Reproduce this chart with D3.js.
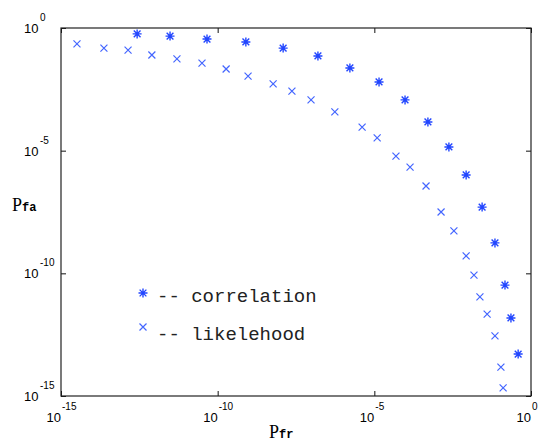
<!DOCTYPE html>
<html>
<head>
<meta charset="utf-8">
<script src="https://cdn.jsdelivr.net/npm/d3@7"></script>
<style>
  body { margin: 0; background: #fff; }
  svg { display: block; }
</style>
</head>
<body>
<div class="chart"></div>
<script>
// exponents (log10)
var corrPfr = [-12.57, -11.52, -10.34, -9.10, -7.91, -6.80, -5.78, -4.85, -4.02, -3.29, -2.62, -2.07, -1.56, -1.15, -0.83, -0.64, -0.41];
var corrPfa = [-0.24, -0.33, -0.45, -0.57, -0.82, -1.14, -1.63, -2.20, -2.93, -3.83, -4.85, -5.99, -7.30, -8.76, -10.48, -11.82, -13.29];
var likePfr = [-14.49, -13.63, -12.86, -12.10, -11.30, -10.50, -9.73, -9.03, -8.23, -7.63, -7.02, -6.26, -5.39, -4.91, -4.31, -3.86, -3.35, -2.87, -2.46, -2.07, -1.82, -1.63, -1.40, -1.15, -0.96, -0.89];
var likePfa = [-0.65, -0.82, -0.90, -1.10, -1.26, -1.43, -1.67, -1.96, -2.28, -2.57, -2.93, -3.42, -4.04, -4.48, -5.22, -5.67, -6.44, -7.50, -8.27, -9.29, -10.07, -10.96, -11.66, -12.55, -13.82, -14.67];
var tickExps = [-15, -10, -5, 0];
var legendLabels = ['-- correlation', '-- likelehood'];

var margins = {top: 28, left: 61, right: 10, bottom: 45};
var width = 541 - margins.left - margins.right;
var height = 441 - margins.top - margins.bottom;

var svg = d3.select('.chart')
    .append('svg')
    .attr('width', 541)
    .attr('height', 441)
    .append('g')
    .attr('transform', 'translate(' + margins.left + ',' + margins.top + ')');

var xScale = d3.scaleLog().domain([1e-15, 1]).range([0, width]);
var yScale = d3.scaleLog().domain([1e-15, 1]).range([height, 0]);
var tickVals = tickExps.map(function (e) { return Math.pow(10, e); });

function tickAxis(axis, transform) {
    var g = svg.append('g')
        .attr('transform', transform)
        .call(axis.tickValues(tickVals).tickSize(-5).tickFormat(''));
    g.select('.domain').remove();
    g.selectAll('line').attr('stroke', '#111');
}
tickAxis(d3.axisBottom(xScale), 'translate(0,' + height + ')');
tickAxis(d3.axisTop(xScale), 'translate(0,0)');
tickAxis(d3.axisLeft(yScale), 'translate(0,0)');
tickAxis(d3.axisRight(yScale), 'translate(' + width + ',0)');

svg.append('rect')
    .attr('width', width)
    .attr('height', height)
    .attr('fill', 'none')
    .attr('stroke', '#222')
    .attr('stroke-width', 1.2);

// tick labels
tickExps.forEach(function (e) {
    var x = xScale(Math.pow(10, e));
    svg.append('text')
        .attr('x', x).attr('y', height + 26)
        .attr('text-anchor', 'end')
        .attr('font-family', 'Liberation Sans, Arial')
        .attr('font-size', 13)
        .text('10');
    svg.append('text')
        .attr('x', x + 1).attr('y', height + 14)
        .attr('font-family', 'Liberation Sans, Arial')
        .attr('font-size', 10)
        .text(e);

    var y = yScale(Math.pow(10, e));
    svg.append('text')
        .attr('x', -37).attr('y', y + 5)
        .attr('font-family', 'Liberation Sans, Arial')
        .attr('font-size', 13)
        .text('10');
    svg.append('text')
        .attr('x', -21).attr('y', y - 7)
        .attr('font-family', 'Liberation Sans, Arial')
        .attr('font-size', 10)
        .text(e);
});

// axis titles
function axisTitle(x, y, sub) {
    var t = svg.append('text')
        .attr('x', x).attr('y', y)
        .attr('font-family', 'Liberation Serif, serif')
        .attr('font-size', 18);
    t.append('tspan').text('P');
    t.append('tspan')
        .attr('font-size', 12)
        .attr('font-weight', 'bold')
        .attr('font-family', 'Liberation Mono, monospace')
        .text(sub);
}
axisTitle(-49, 183, 'fa');
axisTitle(208, height + 42, 'fr');

// markers
var starColor = '#2246ff';
var crossColor = '#4466ff';
function star(g, x, y) {
    var r = 4.5;
    var d = 'M' + (x - r) + ',' + y + 'H' + (x + r) +
        'M' + x + ',' + (y - r) + 'V' + (y + r) +
        'M' + (x - r * 0.75) + ',' + (y - r * 0.75) + 'L' + (x + r * 0.75) + ',' + (y + r * 0.75) +
        'M' + (x - r * 0.75) + ',' + (y + r * 0.75) + 'L' + (x + r * 0.75) + ',' + (y - r * 0.75);
    g.append('path').attr('d', d).attr('stroke', starColor).attr('stroke-width', 1.4).attr('fill', 'none');
}
function cross(g, x, y) {
    var r = 3.5;
    var d = 'M' + (x - r) + ',' + (y - r) + 'L' + (x + r) + ',' + (y + r) +
        'M' + (x - r) + ',' + (y + r) + 'L' + (x + r) + ',' + (y - r);
    g.append('path').attr('d', d).attr('stroke', crossColor).attr('stroke-width', 1.2).attr('fill', 'none');
}

var gStar = svg.append('g');
corrPfr.forEach(function (e, i) {
    star(gStar, xScale(Math.pow(10, e)), yScale(Math.pow(10, corrPfa[i])));
});
var gCross = svg.append('g');
likePfr.forEach(function (e, i) {
    cross(gCross, xScale(Math.pow(10, e)), yScale(Math.pow(10, likePfa[i])));
});

// legend
var gLeg = svg.append('g');
star(gLeg, 82, 265);
cross(gLeg, 82, 299);
legendLabels.forEach(function (s, i) {
    gLeg.append('text')
        .attr('x', 96)
        .attr('y', 274 + i * 38)
        .attr('font-family', 'Liberation Mono, monospace')
        .attr('font-size', 19)
        .attr('fill', '#222')
        .text(s);
});
</script>
</body>
</html>
